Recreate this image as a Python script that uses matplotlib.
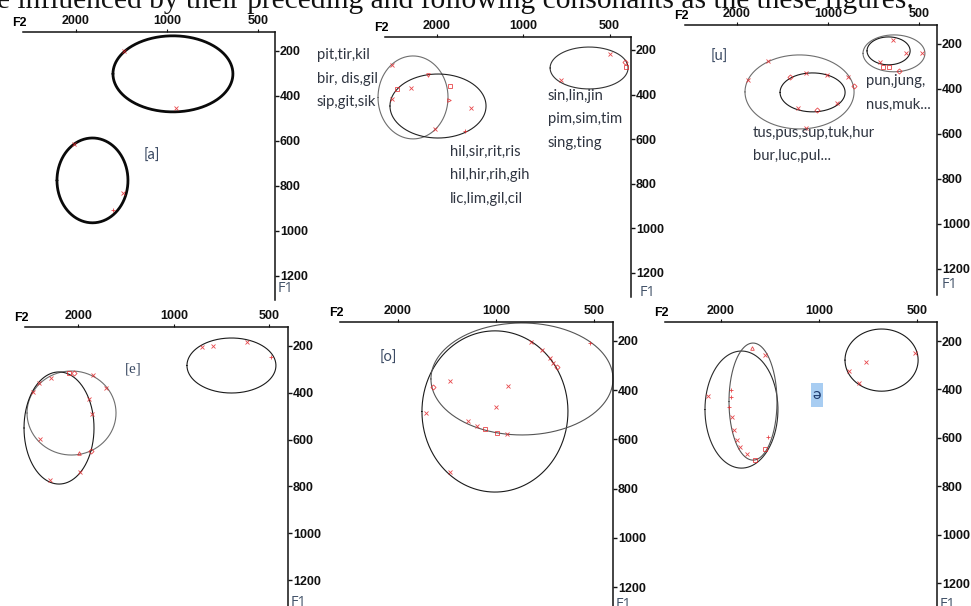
import numpy as np
import matplotlib
matplotlib.use("Agg")
import matplotlib.pyplot as plt
from matplotlib.ticker import NullLocator, FixedLocator, FixedFormatter
from matplotlib.patches import Rectangle

W, H, DPI = 971, 606, 100

# ---------------- data ----------------
xticks = [2000, 1000, 500]
xtick_labels = ["2000", "1000", "500"]
yticks = [200, 400, 600, 800, 1000, 1200]
ytick_labels = ["200", "400", "600", "800", "1000", "1200"]

header_text = "e influenced by their preceding and following consonants as the these figures."

# ellipses: F2 high edge, F2 low edge, F1 top edge, F1 bottom edge
a_f2_hi = [1509, 2312]
a_f2_lo = [605, 1346]
a_f1_lo = [133, 587]
a_f1_hi = [471, 964]

i_f2_hi = [3196, 2904, 805]
i_f2_lo = [1824, 1345, 431]
i_f1_lo = [227, 308, 187]
i_f1_hi = [599, 595, 375]

u_f2_hi = [1882, 1441, 766, 743]
u_f2_lo = [820, 878, 478, 535]
u_f1_lo = [249, 329, 160, 169]
u_f1_hi = [578, 502, 324, 293]

e_f2_hi = [2906, 2970, 910]
e_f2_lo = [1523, 1787, 477]
e_f1_lo = [307, 311, 166]
e_f1_hi = [666, 790, 401]

o_f2_hi = [1688, 1584]
o_f2_lo = [601, 437]
o_f1_lo = [159, 127]
o_f1_hi = [814, 582]

schwa_f2_hi = [2240, 1890, 832]
schwa_f2_lo = [1337, 1346, 496]
schwa_f1_lo = [241, 208, 150]
schwa_f1_hi = [725, 692, 407]

# measured tokens (red marks)
a_pts_f2 = [2030, 1509, 1398, 934, 1388]
a_pts_f1 = [613, 907, 831, 453, 200]
a_pts_m = ["x", "+", "x", "x", "x"]

i_pts_f2 = [2857, 2141, 1795, 1809, 2745, 2857, 2024, 1592, 1517, 2453, 442, 438, 737, 498]
i_pts_f1 = [267, 312, 361, 424, 375, 420, 554, 563, 460, 370, 254, 276, 335, 218]
i_pts_m = ["x", "v", "s", ">", "s", "x", "x", "+", "x", "x", "D", "s", "x", "x"]

u_pts_f2 = [1579, 1839, 1336, 1182, 1008, 859, 820, 1257, 1087, 934, 1182, 658, 628, 582, 610, 552, 489, 673]
u_pts_f1 = [276, 360, 347, 329, 338, 347, 387, 484, 493, 462, 573, 302, 302, 320, 182, 240, 240, 280]
u_pts_m = ["x", "x", "D", "x", "x", "x", "D", "x", "D", "x", "x", "s", "s", "D", "x", "x", "x", "x"]

e_pts_f2 = [2664, 2442, 2142, 2066, 1800, 1638, 1853, 1813, 2645, 1990, 1826, 1978, 2460, 589, 495, 754, 816, 2782]
e_pts_f1 = [358, 337, 315, 315, 324, 380, 427, 491, 597, 657, 649, 739, 773, 183, 247, 200, 204, 397]
e_pts_m = ["x", "x", "s", "D", "x", "x", "x", "x", "x", "^", "D", "x", "x", "x", "+", "x", "x", "x"]

o_pts_f2 = [781, 514, 722, 683, 668, 650, 1561, 1384, 919, 1000, 1219, 1144, 1081, 993, 925, 1641, 1384]
o_pts_f1 = [204, 208, 237, 269, 289, 306, 387, 363, 383, 468, 525, 546, 558, 574, 578, 493, 733]
o_pts_m = ["x", "+", "x", "x", "x", "D", "D", "x", "x", "x", "x", "x", "s", "s", "x", "x", "x"]

schwa_pts_f2 = [1606, 1465, 2193, 1863, 1863, 1890, 1850, 1824, 1786, 1748, 1664, 1573, 1465, 1434, 507, 717, 754, 809]
schwa_pts_f1 = [229, 258, 427, 402, 431, 473, 514, 568, 609, 638, 667, 692, 646, 597, 250, 287, 374, 324]
schwa_pts_m = ["^", "x", "x", "+", "+", "+", "x", "x", "x", "x", "x", "s", "s", "+", "x", "x", "x", "x"]

labels_i_front = ["pit,tir,kil", "bir, dis,gil", "sip,git,sik"]
labels_i_mid = ["hil,sir,rit,ris", "hil,hir,rih,gih", "lic,lim,gil,cil"]
labels_i_back = ["sin,lin,jin", "pim,sim,tim", "sing,ting"]
labels_u_back = ["pun,jung,", "nus,muk..."]
labels_u_mid = ["tus,pus,sup,tuk,hur", "bur,luc,pul..."]

# ---------------- layout helpers ----------------
fig = plt.figure(figsize=(W / DPI, H / DPI), dpi=DPI)
fig.patch.set_facecolor("white")


def fx(x):
    return x / W


def fy(y):
    return 1 - y / H


TICK_FONT = dict(family=["Liberation Sans", "DejaVu Sans"], weight="bold", size=9)
LABEL_COLOR = "#2f3541"
BRACKET_COLOR = "#3b4a63"
F1_COLOR = "#44546a"
LABEL_FONT = ["Lato", "DejaVu Sans"]
LABEL_SIZE = 10.7


def make_panel(box, xlim, ylim):
    x0, y0, x1, y1 = box
    ax = fig.add_axes([fx(x0), fy(y1), fx(x1 - x0), (y1 - y0) / H])
    ax.set_xscale("log")
    ax.set_xlim(*xlim)
    ax.set_ylim(*ylim)
    ax.patch.set_alpha(0)
    ax.xaxis.set_minor_locator(NullLocator())
    ax.yaxis.set_minor_locator(NullLocator())
    ax.xaxis.set_major_locator(FixedLocator(xticks))
    ax.xaxis.set_major_formatter(FixedFormatter(xtick_labels))
    ax.yaxis.set_major_locator(FixedLocator(yticks))
    ax.yaxis.set_major_formatter(FixedFormatter(ytick_labels))
    ax.xaxis.tick_top()
    ax.yaxis.tick_right()
    for s in ["left", "bottom"]:
        ax.spines[s].set_visible(False)
    for s in ["top", "right"]:
        ax.spines[s].set_linewidth(1.1)
        ax.spines[s].set_color("#111111")
    ax.tick_params(axis="x", direction="out", length=2, width=0.8, pad=1.5, colors="#111111")
    ax.tick_params(axis="y", direction="out", length=3, width=1.0, pad=0.5, colors="#111111")
    for lab in ax.get_xticklabels() + ax.get_yticklabels():
        lab.set_fontfamily(TICK_FONT["family"])
        lab.set_fontweight("bold")
        lab.set_fontsize(TICK_FONT["size"])
    # F2 label at the left end of the top axis
    fig.text(fx(x0 - 4), fy(y0 - 9), "F2", ha="center", va="center", **TICK_FONT)
    return ax


def draw_ellipses(ax, f2_hi, f2_lo, f1_lo, f1_hi, colors, lw):
    t = np.linspace(0, 2 * np.pi, 400)
    for a, b, c, d, col in zip(f2_hi, f2_lo, f1_lo, f1_hi, colors):
        la, lb = np.log10(a), np.log10(b)
        mx, hx = (la + lb) / 2, (la - lb) / 2
        my, hy = (c + d) / 2, (d - c) / 2
        ax.plot(10 ** (mx + hx * np.cos(t)), my + hy * np.sin(t), color=col, lw=lw,
                solid_capstyle="round", clip_on=False)


def draw_points(ax, f2, f1, marks):
    for x, y, m in zip(f2, f1, marks):
        filled = m in ("x", "+")
        ax.plot([x], [y], marker=m, ms=2.6, mew=0.6, alpha=0.85,
                color="#e3262a", mfc="none" if not filled else "#e3262a", ls="none")


def label_lines(x, y, lines, step=23.5):
    for k, s in enumerate(lines):
        fig.text(fx(x), fy(y + step * k), s, ha="left", va="center", color=LABEL_COLOR,
                 family=LABEL_FONT, fontsize=LABEL_SIZE)


def f1_label(x, y):
    fig.text(fx(x), fy(y), "F1", ha="left", va="center", color=F1_COLOR,
             family=["Open Sans", "DejaVu Sans"], fontsize=10.5)


# ---------------- header text (cropped document line) ----------------
hdr = fig.text(fx(-3), fy(8), header_text, ha="left", va="baseline",
               family=["Liberation Serif", "DejaVu Serif"], fontsize=19, color="#111111")
fig.canvas.draw()
bb = hdr.get_window_extent()
hdr.set_fontsize(19 * 918 / bb.width)

# ---------------- panel 1 : [a] ----------------
ax1 = make_panel((23, 32, 275, 300), (2995, 439), (1307, 116))
draw_ellipses(ax1, a_f2_hi, a_f2_lo, a_f1_lo, a_f1_hi, ["#0a0a0a", "#0a0a0a"], 2.0)
draw_points(ax1, a_pts_f2, a_pts_f1, a_pts_m)
fig.text(fx(152), fy(156), "[a]", ha="center", va="center", color=BRACKET_COLOR,
         family=LABEL_FONT, fontsize=10.5)
f1_label(278, 288)

# ---------------- panel 2 : [i] ----------------
ax2 = make_panel((385, 37, 631, 297), (3022, 421), (1308, 142))
draw_ellipses(ax2, i_f2_hi, i_f2_lo, i_f1_lo, i_f1_hi, ["#6e6e6e", "#222222", "#333333"], 0.8)
draw_points(ax2, i_pts_f2, i_pts_f1, i_pts_m)
label_lines(317, 55, labels_i_front)
label_lines(450, 152, labels_i_mid)
label_lines(548, 96, labels_i_back)
f1_label(640, 292)

# ---------------- panel 3 : [u] ----------------
ax3 = make_panel((685, 25, 937, 295), (2972, 436), (1316, 116))
draw_ellipses(ax3, u_f2_hi, u_f2_lo, u_f1_lo, u_f1_hi,
              ["#6e6e6e", "#1a1a1a", "#6e6e6e", "#1a1a1a"], 0.8)
draw_points(ax3, u_pts_f2, u_pts_f1, u_pts_m)
fig.text(fx(719), fy(57), "[u]", ha="center", va="center", color=BRACKET_COLOR,
         family=LABEL_FONT, fontsize=10.5)
label_lines(866, 81, labels_u_back)
label_lines(753, 133, labels_u_mid)
f1_label(942, 284)

# ---------------- panel 4 : [e] ----------------
ax4 = make_panel((25, 327, 288, 606), (2949, 437), (1311, 119))
draw_ellipses(ax4, e_f2_hi, e_f2_lo, e_f1_lo, e_f1_hi, ["#6e6e6e", "#1a1a1a", "#1a1a1a"], 0.8)
draw_points(ax4, e_pts_f2, e_pts_f1, e_pts_m)
fig.text(fx(133), fy(369), "[e]", ha="center", va="center", color=BRACKET_COLOR,
         family=["Liberation Serif", "DejaVu Serif"], fontsize=11)
f1_label(291, 603)

# ---------------- panel 5 : [o] ----------------
ax5 = make_panel((340, 322, 613, 606), (3014, 437), (1277, 123))
draw_ellipses(ax5, o_f2_hi, o_f2_lo, o_f1_lo, o_f1_hi, ["#1a1a1a", "#555555"], 0.8)
draw_points(ax5, o_pts_f2, o_pts_f1, o_pts_m)
fig.text(fx(388), fy(358), "[o]", ha="center", va="center", color=BRACKET_COLOR,
         family=LABEL_FONT, fontsize=10.5)
f1_label(616, 604)

# ---------------- panel 6 : schwa ----------------
ax6 = make_panel((665, 322, 937, 606), (2972, 434), (1295, 121))
draw_ellipses(ax6, schwa_f2_hi, schwa_f2_lo, schwa_f1_lo, schwa_f1_hi,
              ["#2a2a2a", "#555555", "#1a1a1a"], 0.8)
draw_points(ax6, schwa_pts_f2, schwa_pts_f1, schwa_pts_m)
fig.patches.append(Rectangle((fx(811), fy(407)), fx(12), 24 / H, transform=fig.transFigure,
                             facecolor="#a8cdf2", edgecolor="none", zorder=0))
fig.text(fx(817), fy(395), "ə", ha="center", va="center", color="#1f3b6e",
         family=LABEL_FONT, fontsize=11.5)
f1_label(940, 604)

fig.savefig("out.png", dpi=DPI, facecolor="white")
